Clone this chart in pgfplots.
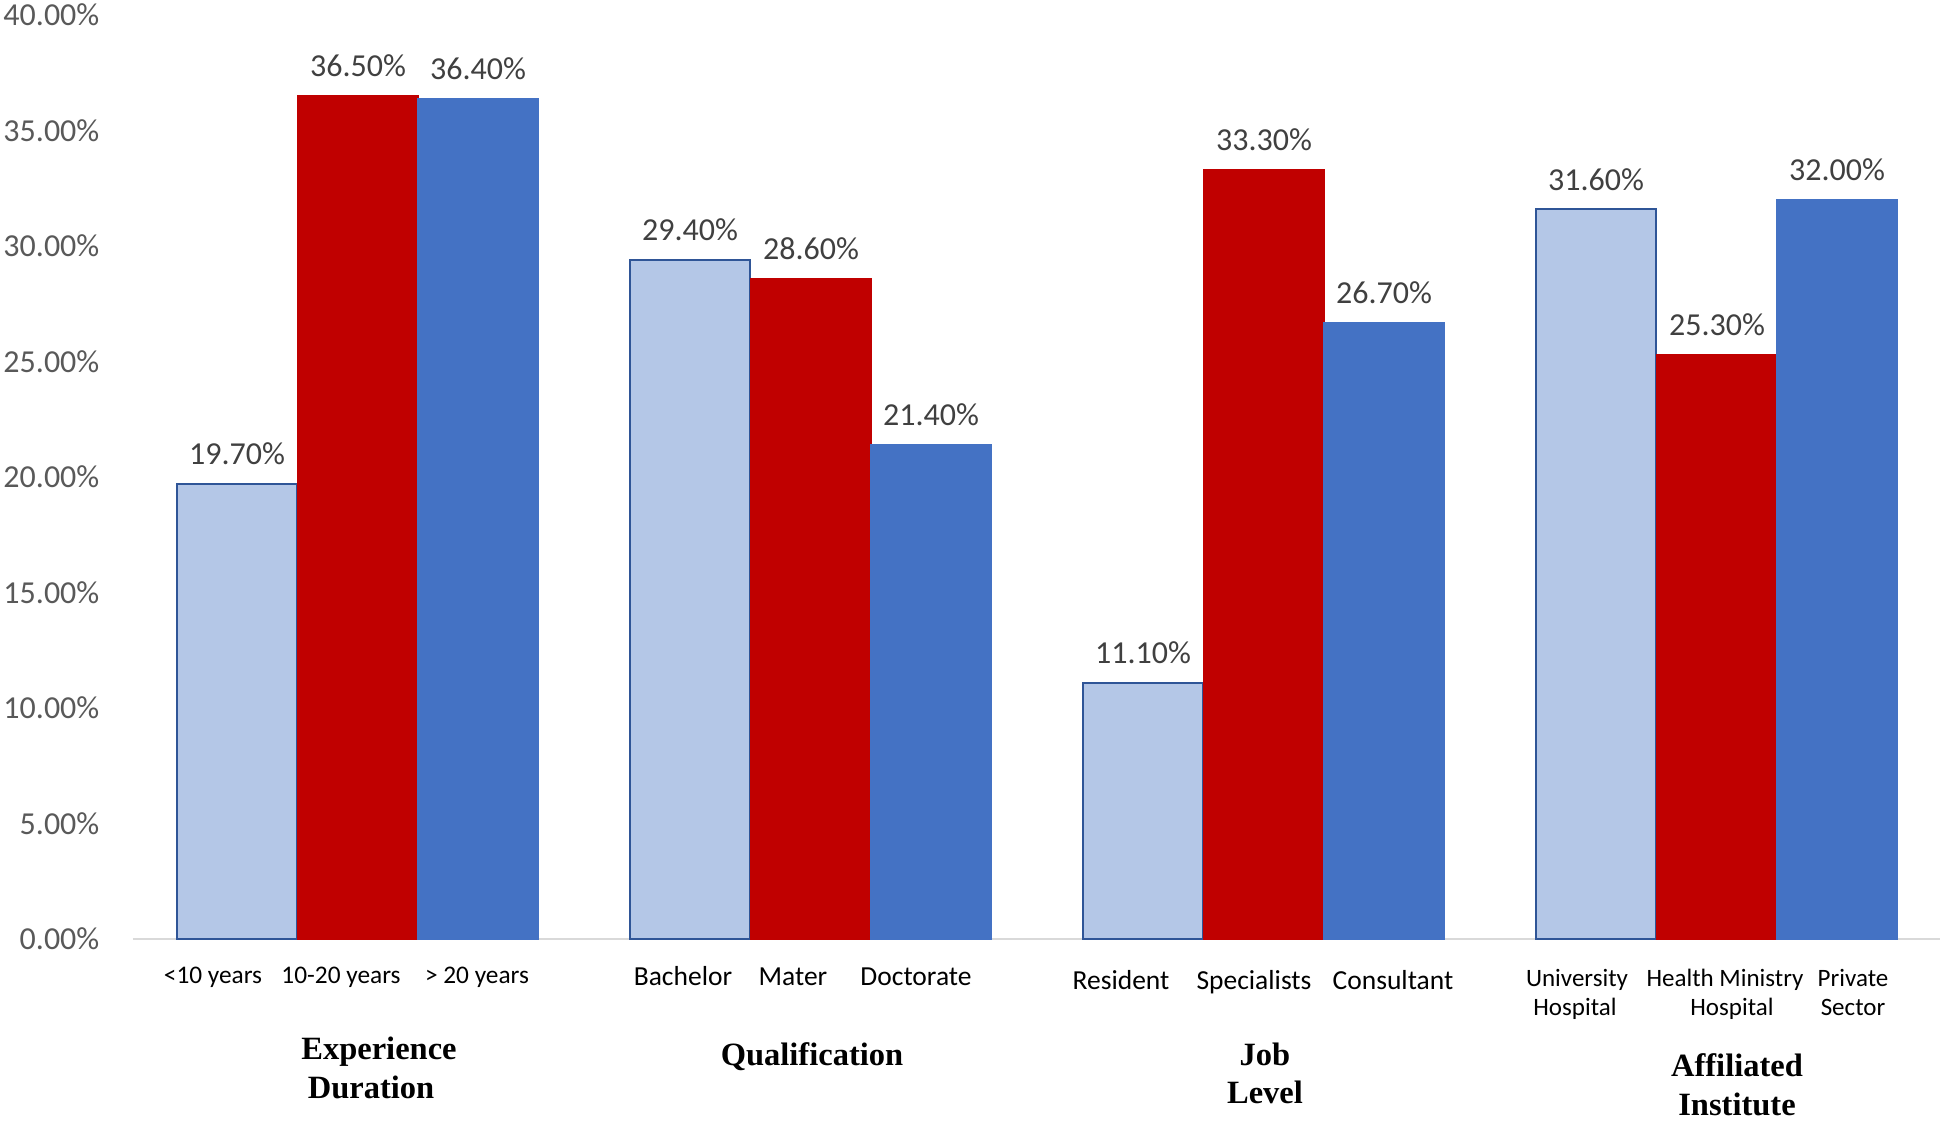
\documentclass[border=0pt]{standalone}
\usepackage{pgfplots}
\pgfplotsset{compat=1.18}
\usepackage{fontspec}
\setmainfont{Carlito}
\newfontfamily\titlefont{Liberation Serif}
\definecolor{lightbar}{HTML}{B4C7E7}
\definecolor{redbar}{HTML}{C00000}
\definecolor{bluebar}{HTML}{4472C4}
\definecolor{outline}{HTML}{2F5597}
\definecolor{axisgray}{HTML}{D9D9D9}
\definecolor{tickgray}{HTML}{595959}
\definecolor{labelgray}{HTML}{404040}
\begin{document}
\begin{tikzpicture}
\begin{scope}[shift={(-39.9pt,281.7pt)}, x=0.3pt, y=-0.3pt]
\useasboundingbox (0,0) rectangle (1944,1122);
\end{scope}
\begin{axis}[
  at={(0,0)}, anchor=south west,
  scale only axis, width=542.1pt, height=277.2pt,
  xmin=133, xmax=1940, ymin=0, ymax=40,
  axis x line*=bottom, axis y line*=left,
  y axis line style={draw=none},
  x axis line style={draw=axisgray, line width=0.6pt, -},
  xtick=\empty,
  ytick={0,5,10,15,20,25,30,35,40},
  yticklabels={0.00\%,5.00\%,10.00\%,15.00\%,20.00\%,25.00\%,30.00\%,35.00\%,40.00\%},
  major tick length=0pt,
  yticklabel style={font=\fontsize{9.6}{11}\selectfont, text=tickgray, anchor=east, inner sep=0pt, xshift=-9.9pt},
  /pgf/number format/assume math mode=true,
  nodes near coords={\pgfmathprintnumber[fixed,fixed zerofill,precision=2]{\pgfplotspointmeta}\%},
  every node near coord/.append style={font=\fontsize{9.6}{11}\selectfont, text=labelgray, anchor=base, inner sep=0pt, yshift=5.7pt},
  clip=false,
]
\addplot[ybar, bar shift=0pt, bar width=120.5, fill=lightbar, draw=outline, line width=0.6pt] coordinates {(237,19.7) (690,29.4) (1143,11.1) (1596,31.6)};
\addplot[ybar, bar shift=0pt, bar width=120.5, fill=redbar, draw=redbar, line width=0.3pt] coordinates {(358,36.5) (811,28.6) (1264,33.3) (1717,25.3)};
\addplot[ybar, bar shift=0pt, bar width=120.5, fill=bluebar, draw=bluebar, line width=0.3pt] coordinates {(478,36.4) (931,21.4) (1384,26.7) (1837,32.0)};
\end{axis}
\begin{scope}[shift={(-39.9pt,281.7pt)}, x=0.3pt, y=-0.3pt]
\tikzset{cat/.style={anchor=base, inner sep=0pt, text=black}}
\begin{scope}[every node/.style={cat, font=\fontsize{7.6}{9}\selectfont}]
\node at (213,983) {<10 years};
\node at (341,983) {10-20 years};
\node at (477,983) {> 20 years};
\end{scope}
\begin{scope}[every node/.style={cat, font=\fontsize{8.25}{10}\selectfont}]
\node at (683,985) {Bachelor};
\node at (793,985) {Mater};
\node at (916,985) {Doctorate};
\node at (1121,989) {Resident};
\node at (1254,989) {Specialists};
\node at (1393,989) {Consultant};
\end{scope}
\begin{scope}[every node/.style={cat, font=\fontsize{7.5}{9}\selectfont}]
\node at (1577,986) {University};
\node at (1575,1015) {Hospital};
\node at (1725,986) {Health Ministry};
\node at (1732,1015) {Hospital};
\node at (1853,986) {Private};
\node at (1853,1015) {Sector};
\end{scope}
\begin{scope}[every node/.style={cat, font=\titlefont\bfseries\fontsize{9.75}{11.4}\selectfont}]
\node at (379,1059) {Experience};
\node at (371,1098) {Duration};
\node at (812,1065) {Qualification};
\node at (1265,1065) {Job};
\node at (1265,1103) {Level};
\node at (1737,1076) {Affiliated};
\node at (1737,1115) {Institute};
\end{scope}
\end{scope}
\end{tikzpicture}
\end{document}
